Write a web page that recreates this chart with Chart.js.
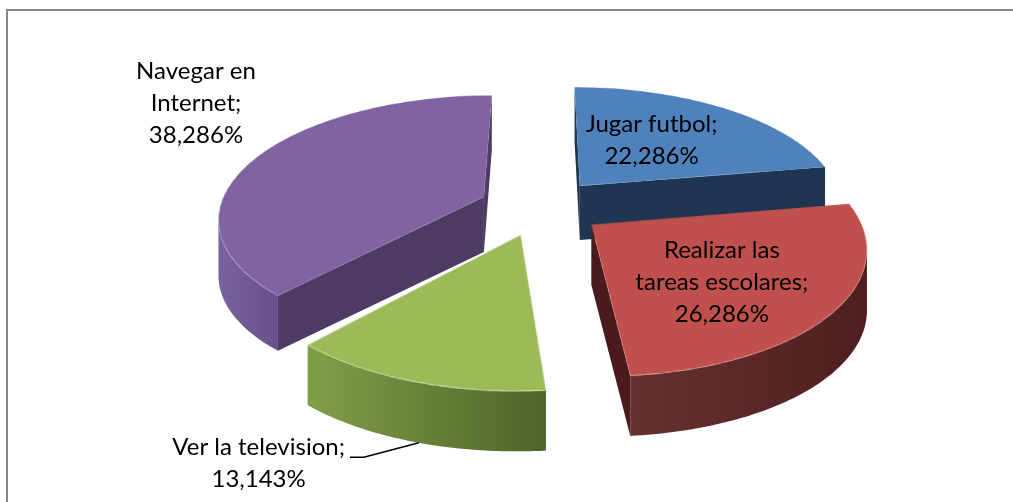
<!DOCTYPE html>
<html>
<head>
<meta charset="utf-8">
<script src="https://cdn.jsdelivr.net/npm/chart.js@4.4.1/dist/chart.umd.min.js"></script>
<style>
  html, body { margin: 0; padding: 0; background: #fff; overflow: hidden; }
  #frame {
    position: absolute; left: 6px; top: 9px; width: 1100px; height: 600px;
    border-top: 2px solid #878787; border-left: 2px solid #878787;
  }
  #chart { position: absolute; left: 0; top: 0; }
</style>
</head>
<body>
<div id="frame"></div>
<canvas id="chart" width="1013" height="502"></canvas>
<script>
// datos de la encuesta
const categories = ['Jugar futbol', 'Realizar las tareas escolares', 'Ver la television', 'Navegar en Internet'];
const percentages = [22.286, 26.286, 13.143, 38.286];
// texto de las etiquetas, ya partido en lineas
const labelLines = [
    ['Jugar futbol;'],
    ['Realizar las', 'tareas escolares;'],
    ['Ver la television;'],
    ['Navegar en', 'Internet;']
];

const topColors = ['#4F81BD', '#C0504D', '#9BBB59', '#8064A2'];
// pared curva: degradado de izquierda a derecha
const wallColors = [
    ['#2A4262', '#1E324D'],
    ['#66312E', '#4D1F1E'],
    ['#809F4A', '#4F6228'],
    ['#7A629F', '#66508C']
];
// caras de corte (radios)
const cutColors = ['#203552', '#4A1B1A', '#55692C', '#4E3B63'];
const sliceDepth = [54, 60, 60, 55];

// ajustes del efecto 3D
const SQUASH = 0.458;
const PERSP = 0.00134;  // crecimiento de escala por pixel hacia el frente
const EXPLODE = 62;     // separacion de cada porcion, en px
const RADIUS = 264;
const STEPS = 90;

// posicion de las etiquetas
const labelRadius = [0.5, 0.5, 1.3, 1.3];
const labelShift = [[-4, -4], [15, 17], [-114, 26], [2, -42]];
const LINE_H = 32;
const FONT = '24px Lato, "Open Sans", sans-serif';

function fmt(v) {
    return v.toFixed(3).replace('.', ',') + '%';
}

function halfAngle(arc) {
    return (arc.startAngle + arc.endAngle) / 2;
}

// punto del plano de la torta (sin aplastar) -> pantalla con perspectiva
function project(arc, x, y) {
    const u = (y - arc.y) * SQUASH;
    const v = u / (1 - PERSP * u);
    const s = 1 + PERSP * v;
    return [arc.x + (x - arc.x) * s, arc.y + v];
}

// vertice y borde exterior de la cara superior, ya en pantalla
function outline(arc) {
    const h = halfAngle(arc);
    const ex = arc.x + Math.cos(h) * EXPLODE;
    const ey = arc.y + Math.sin(h) * EXPLODE;
    const pts = [];
    for (let j = 0; j <= STEPS; j++) {
        const a = arc.startAngle + (arc.endAngle - arc.startAngle) * j / STEPS;
        pts.push(project(arc, ex + Math.cos(a) * arc.outerRadius, ey + Math.sin(a) * arc.outerRadius));
    }
    return { apex: project(arc, ex, ey), pts };
}

function blank(W, H) {
    const c = document.createElement('canvas');
    c.width = W;
    c.height = H;
    return c;
}

// copia src en ctx escalando cada fila segun su distancia al centro
function warp(src, ctx, cx, cy) {
    const W = src.width, H = src.height;
    for (let y = 0; y < H; y++) {
        const v = y + 0.5 - cy;
        const s = 1 + PERSP * v;
        if (s <= 0) continue;
        const sy = cy + v / s - 0.5;
        if (sy < 0 || sy > H - 1) continue;
        ctx.drawImage(src, 0, sy, W, 1, cx - cx * s, y, W * s, 1);
    }
}

// una cara lateral (a -> b en sentido horario) se ve si va de derecha a izquierda
function drawCut(ctx, a, b, d, color) {
    if (b[0] >= a[0]) return;
    ctx.fillStyle = color;
    ctx.beginPath();
    ctx.moveTo(a[0], a[1]);
    ctx.lineTo(b[0], b[1]);
    ctx.lineTo(b[0], b[1] + d);
    ctx.lineTo(a[0], a[1] + d);
    ctx.closePath();
    ctx.fill();
}

function drawWall(ctx, pts, d, colors) {
    let run = [];
    const flush = () => {
        if (run.length > 1) {
            const xs = run.map(p => p[0]);
            const g = ctx.createLinearGradient(Math.min(...xs), 0, Math.max(...xs), 0);
            g.addColorStop(0, colors[0]);
            g.addColorStop(1, colors[1]);
            ctx.fillStyle = g;
            ctx.beginPath();
            run.forEach((p, j) => j ? ctx.lineTo(p[0], p[1]) : ctx.moveTo(p[0], p[1]));
            for (let j = run.length - 1; j >= 0; j--) ctx.lineTo(run[j][0], run[j][1] + d);
            ctx.closePath();
            ctx.fill();
        }
        run = [];
    };
    for (let j = 0; j < pts.length - 1; j++) {
        if (pts[j + 1][0] < pts[j][0]) {
            if (!run.length) run.push(pts[j]);
            run.push(pts[j + 1]);
        } else {
            flush();
        }
    }
    flush();
}

const pie3d = {
    id: 'pie3d',
    beforeDatasetsDraw(chart) {
        const ctx = chart.ctx;
        const arcs = chart.getDatasetMeta(0).data;
        const cx = arcs[0].x, cy = arcs[0].y;
        const W = chart.canvas.width, H = chart.canvas.height;

        // caras superiores: porciones separadas, aplastadas en vertical
        const tops = blank(W, H);
        const tctx = tops.getContext('2d');
        tctx.translate(0, cy);
        tctx.scale(1, SQUASH);
        tctx.translate(0, -cy);
        arcs.forEach(arc => {
            const h = halfAngle(arc);
            const slice = Object.create(arc);
            slice.x = arc.x + Math.cos(h) * EXPLODE;
            slice.y = arc.y + Math.sin(h) * EXPLODE;
            arc.draw.call(slice, tctx);
        });

        // paredes, de la porcion mas lejana a la mas cercana
        const shapes = arcs.map((arc, i) => ({ i, ...outline(arc) }));
        shapes.slice().sort((p, q) => p.apex[1] - q.apex[1]).forEach(({ i, apex, pts }) => {
            const d = sliceDepth[i];
            drawWall(ctx, pts, d, wallColors[i]);
            drawCut(ctx, apex, pts[0], d, cutColors[i]);
            drawCut(ctx, pts[pts.length - 1], apex, d, cutColors[i]);
        });

        warp(tops, ctx, cx, cy);
        return false;
    },
    afterDraw(chart) {
        const ctx = chart.ctx;
        const arcs = chart.getDatasetMeta(0).data;
        ctx.save();
        ctx.font = FONT;
        ctx.fillStyle = '#000';
        ctx.textAlign = 'center';
        ctx.textBaseline = 'middle';
        arcs.forEach((arc, i) => {
            const h = halfAngle(arc);
            const dist = EXPLODE + labelRadius[i] * arc.outerRadius;
            const [px, py] = project(arc, arc.x + Math.cos(h) * dist, arc.y + Math.sin(h) * dist);
            const lx = px + labelShift[i][0];
            const ly = py + labelShift[i][1];
            const lines = labelLines[i].concat([fmt(percentages[i])]);
            const top = ly - (lines.length - 1) * LINE_H / 2;
            lines.forEach((t, j) => ctx.fillText(t, lx, top + j * LINE_H));

            // linea guia para la etiqueta exterior de la porcion pequena
            if (i === 2) {
                const w = ctx.measureText(lines[0]).width;
                const sx = lx + w / 2 + 5;
                const sy = top + 10;
                const { pts } = outline(arc);
                const [ex, ey] = pts[Math.round(pts.length * 0.47)];
                ctx.strokeStyle = '#000';
                ctx.lineWidth = 1.5;
                ctx.beginPath();
                ctx.moveTo(sx, sy);
                ctx.lineTo(sx + 14, sy);
                ctx.lineTo(ex, ey + sliceDepth[i]);
                ctx.stroke();
            }
        });
        ctx.restore();
    }
};

new Chart(document.getElementById('chart'), {
    type: 'pie',
    data: {
        labels: categories,
        datasets: [{
            data: percentages,
            backgroundColor: topColors,
            borderWidth: 0,
            clip: false
        }]
    },
    options: {
        responsive: false,
        animation: false,
        events: [],
        radius: RADIUS,
        layout: { padding: { left: 69, right: 0, top: 0, bottom: 88 } },
        plugins: {
            legend: { display: false },
            tooltip: { enabled: false }
        }
    },
    plugins: [pie3d]
});
</script>
</body>
</html>
